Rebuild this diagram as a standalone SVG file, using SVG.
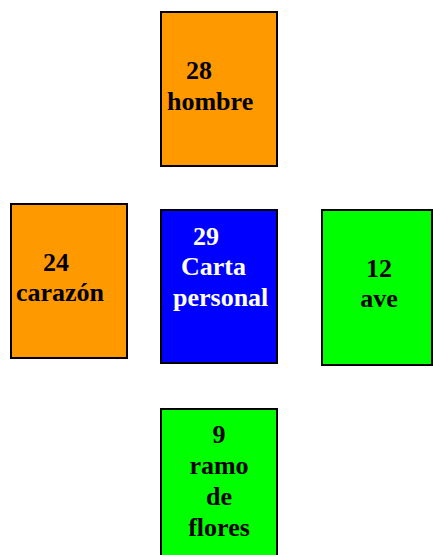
<svg xmlns="http://www.w3.org/2000/svg" width="433" height="555" viewBox="0 0 433 555">
<style>
.card{stroke:#000;stroke-width:2}
.o{fill:#FF9900}.b{fill:#0000FF}.g{fill:#00FF00}
text{font-family:"Liberation Serif","Times New Roman",serif;font-weight:bold;font-size:26px;fill:#000}
.w{fill:#fff}
.c{text-anchor:middle}
</style>
<rect width="433" height="555" fill="#fff"/>
<g id="connectors"></g>
<g id="n28">
<rect class="card o" x="161" y="12" width="116" height="154"/>
<text x="186" y="79">28</text>
<text x="167" y="110">hombre</text>
</g>
<g id="n24">
<rect class="card o" x="11" y="204" width="116" height="154"/>
<text x="43" y="271">24</text>
<text x="16" y="301">carazón</text>
</g>
<g id="n29">
<rect class="card b" x="161" y="210" width="116" height="153"/>
<text class="w" x="193" y="245">29</text>
<text class="w" x="181" y="275">Carta</text>
<text class="w" x="173" y="306">personal</text>
</g>
<g id="n12">
<rect class="card g" x="322" y="210" width="110" height="155"/>
<text class="c" x="379" y="277">12</text>
<text class="c" x="379" y="307">ave</text>
</g>
<g id="n9">
<rect class="card g" x="161" y="409" width="116" height="150"/>
<text class="c" x="219" y="443">9</text>
<text class="c" x="219" y="474">ramo</text>
<text class="c" x="219" y="505">de</text>
<text class="c" x="219" y="536">flores</text>
</g>
</svg>
